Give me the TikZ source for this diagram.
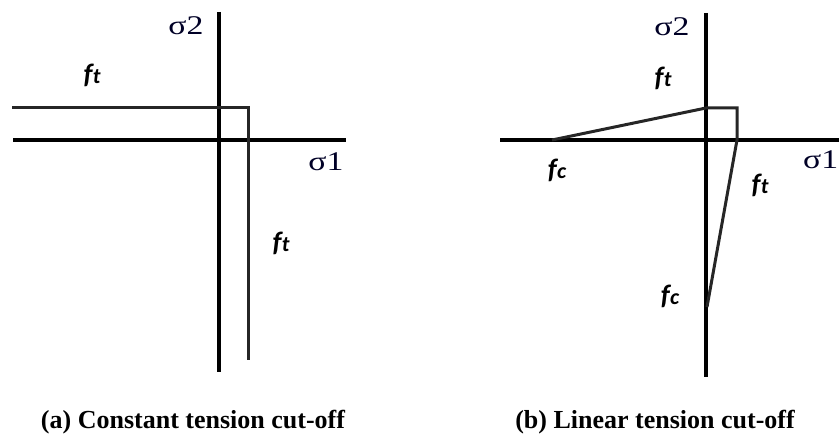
\documentclass[tikz,border=0pt]{standalone}
\usepackage{fontspec}
\setmainfont{Liberation Serif}
\newfontfamily\lblfont{Carlito}
\newcommand{\sigtxt}[1]{\scalebox{1.25}[1]{#1}}
\newcommand{\flab}[1]{f\kern0.5pt{\fontsize{22}{22}\selectfont #1}}
\begin{document}
\begin{tikzpicture}[x=1pt,y=-1pt,
  axis/.style={line width=4pt,black},
  cut/.style={line width=3pt,black!85,line join=miter},
  sig/.style={font=\fontsize{27}{27}\selectfont,text=black!85!blue,inner sep=0pt},
  flbl/.style={font=\lblfont\bfseries\itshape\fontsize{28}{28}\selectfont,inner sep=0pt},
  capt/.style={font=\bfseries\fontsize{26}{30}\selectfont,inner sep=0pt}]
\useasboundingbox (0,0) rectangle (839,441);
% panel (a)
\coordinate (aVt) at (219,12); \coordinate (aVb) at (219,372);
\coordinate (aHl) at (13,140); \coordinate (aHr) at (346,140);
\coordinate (aC1) at (12,108); \coordinate (aC2) at (248,108); \coordinate (aC3) at (248,360);
\draw[axis] (aVt) -- (aVb);
\draw[axis] (aHl) -- (aHr);
\draw[cut] (aC1) -- (aC2) -- (aC3);
\node[sig] (as2) at (186,26) {\sigtxt{σ2}};
\node[sig] (as1) at (326,162) {\sigtxt{σ1}};
\node[flbl] (aft1) at (92,75) {\flab{t}};
\node[flbl] (aft2) at (281,243) {\flab{t}};
\node[capt] (acap) at (193,422) {(a) Constant tension cut-off};
% panel (b)
\coordinate (bVt) at (706,13); \coordinate (bVb) at (706,377);
\coordinate (bHl) at (500,140); \coordinate (bHr) at (839,140);
\coordinate (bP1) at (552,140); \coordinate (bP2) at (706,108); \coordinate (bP3) at (737,108);
\coordinate (bP4) at (737,140); \coordinate (bP5) at (707,307);
\draw[axis] (bVt) -- (bVb);
\draw[axis] (bHl) -- (bHr);
\draw[cut] (bP1) -- (bP2) -- (bP3) -- (bP4) -- (bP5);
\node[sig] (bs2) at (672,27) {\sigtxt{σ2}};
\node[sig,anchor=west] (bs1) at (803,160) {\sigtxt{σ1}};
\node[flbl] (bft1) at (663,78) {\flab{t}};
\node[flbl] (bfc1) at (557,170) {\flab{c}};
\node[flbl] (bft2) at (760,185) {\flab{t}};
\node[flbl] (bfc2) at (670,296) {\flab{c}};
\node[capt] (bcap) at (655,422) {(b) Linear tension cut-off};
\end{tikzpicture}
\end{document}
